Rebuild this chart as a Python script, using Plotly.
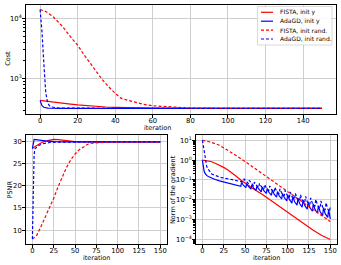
import plotly.graph_objects as go

# ---------------- Data ----------------
# Cost (log scale)
cost_fista_y_it = [0, 5, 10, 15, 20, 25, 30, 35, 40, 50, 60, 80, 100, 150]
cost_fista_y = [440, 425, 405, 388, 372, 360, 350, 343, 338, 332, 329, 327, 326, 325]
cost_ada_y_it = [0, 1, 2, 3, 4, 6, 10, 150]
cost_ada_y = [440, 360, 340, 332, 329, 327, 326, 325]
cost_fista_r_it = [0, 3, 7, 12, 17, 20, 23, 28, 33, 38, 43, 47, 50, 55, 60, 70, 80, 100, 150]
cost_fista_r = [14000, 13000, 10600, 7300, 4600, 3600, 2600, 1600, 980, 660, 480, 440, 415, 380, 360, 340, 330, 326, 325]
cost_ada_r_it = [0, 1, 2, 3, 4, 5, 6, 8, 10, 150]
cost_ada_r = [14000, 6000, 1800, 600, 400, 360, 345, 333, 328, 325]

# PSNR
psnr_fista_y_it = [0, 5, 10, 15, 20, 25, 30, 35, 40, 50, 60, 80, 150]
psnr_fista_y = [28.4, 29.0, 29.6, 30.0, 30.25, 30.4, 30.35, 30.2, 30.05, 29.9, 29.85, 29.85, 29.85]
psnr_ada_y_it = [0, 1, 2, 4, 8, 15, 25, 40, 150]
psnr_ada_y = [28.3, 29.8, 30.4, 30.35, 30.2, 30.05, 29.9, 29.85, 29.85]
psnr_fista_r_it = [0, 5, 10, 15, 20, 25, 30, 35, 40, 45, 50, 55, 60, 65, 70, 80, 90, 150]
psnr_fista_r = [8.0, 8.8, 10.8, 12.9, 14.9, 17.2, 19.7, 22.0, 24.1, 25.8, 27.1, 28.1, 28.8, 29.3, 29.55, 29.75, 29.82, 29.85]
psnr_ada_r_it = [0, 1, 2, 3, 5, 8, 12, 20, 30, 150]
psnr_ada_r = [8.0, 18.0, 27.0, 28.3, 28.7, 29.1, 29.4, 29.7, 29.8, 29.85]

# Norm of the gradient (log scale)
grad_fista_y_it = [0, 5, 10, 15, 20, 25, 30, 35, 40, 45, 50, 60, 70, 80, 90, 100, 110, 120, 130, 140, 150]
grad_fista_y = [1.0, 0.95, 0.85, 0.7, 0.56, 0.43, 0.32, 0.23, 0.15, 0.1, 0.07, 0.035, 0.019, 0.0095,
                0.0047, 0.0023, 0.0011, 0.00055, 0.00029, 0.00016, 0.0001]
grad_fista_r_it = [0, 10, 20, 30, 40, 50, 60, 75, 90, 100, 110, 125, 140, 150]
grad_fista_r = [10.0, 8.0, 5.6, 3.2, 1.66, 0.85, 0.42, 0.15, 0.052, 0.025, 0.013, 0.0045, 0.0016, 0.0008]
grad_ada_y_it = [0, 1, 2, 3, 4, 5, 7, 10, 15, 20, 30, 40,
                 45, 46, 48, 51, 52, 54, 57, 58, 60, 63, 64, 66, 69, 70, 72,
                 75, 76, 78, 81, 82, 84, 87, 88, 90, 93, 94, 96, 99, 100, 102,
                 105, 106, 108, 111, 112, 114, 117, 118, 120, 123, 124, 126,
                 129, 130, 132, 135, 136, 138, 141, 142, 144, 147, 148, 150]
grad_ada_y = [1.0, 0.45, 0.28, 0.22, 0.19, 0.17, 0.15, 0.13, 0.105, 0.09, 0.07, 0.055,
              0.048, 0.075, 0.055, 0.041, 0.065, 0.047, 0.035, 0.056, 0.040, 0.030, 0.050, 0.035,
              0.025, 0.043, 0.029, 0.021, 0.037, 0.024, 0.017, 0.031, 0.020, 0.0135, 0.026, 0.016,
              0.011, 0.021, 0.013, 0.0088, 0.018, 0.0105, 0.0068, 0.015, 0.0082, 0.0054, 0.012, 0.0065,
              0.0043, 0.0095, 0.0052, 0.0034, 0.0078, 0.0041, 0.0027, 0.0063, 0.0033, 0.0021, 0.005,
              0.0026, 0.0016, 0.004, 0.002, 0.0013, 0.0032, 0.0011]
grad_ada_r_it = [0, 1, 2, 3, 4, 5, 6, 8, 11, 15, 23, 30, 40, 45,
                 48, 49, 51, 54, 55, 57, 60, 61, 63, 66, 67, 69, 72, 73, 75,
                 78, 79, 81, 84, 85, 87, 90, 91, 93, 96, 97, 99, 102, 103, 105,
                 108, 109, 111, 114, 115, 117, 120, 121, 123, 126, 127, 129,
                 132, 133, 135, 138, 139, 141, 144, 145, 147, 149, 150]
grad_ada_r = [10.0, 5.0, 2.8, 1.8, 0.8, 0.5, 0.38, 0.28, 0.2, 0.17, 0.13, 0.115, 0.095, 0.085,
              0.078, 0.11, 0.085, 0.066, 0.095, 0.072, 0.05, 0.078, 0.056, 0.042, 0.068, 0.047,
              0.035, 0.058, 0.039, 0.029, 0.05, 0.033, 0.024, 0.043, 0.027, 0.02, 0.036, 0.022,
              0.016, 0.03, 0.018, 0.013, 0.025, 0.0145, 0.0108, 0.021, 0.012, 0.0088, 0.018, 0.0098,
              0.0072, 0.015, 0.008, 0.0058, 0.0125, 0.0065, 0.0047, 0.0105, 0.0053, 0.0038, 0.0088,
              0.0043, 0.003, 0.0072, 0.0034, 0.0025, 0.005]

series_names = ["FISTA, init y", "AdaGD, init y", "FISTA, init rand.", "AdaGD, init rand."]
x_title = "iteration"
y_titles = ["Cost", "PSNR", "Norm of the gradient"]

# ---------------- Figure ----------------
RED = "#ff0000"
BLUE = "#0000ff"
DASH = "3px,2px"
LW = 1.2
series_styles = [(RED, "solid"), (BLUE, "solid"), (RED, DASH), (BLUE, DASH)]

fig = go.Figure()

def add(x, y, k, xa, ya):
    color, dash = series_styles[k]
    fig.add_trace(go.Scatter(
        x=x, y=y, mode="lines", name=series_names[k],
        line=dict(color=color, width=LW, dash=dash),
        xaxis=xa, yaxis=ya, showlegend=False, hoverinfo="skip",
    ))

add(cost_fista_y_it, cost_fista_y, 0, "x", "y")
add(cost_ada_y_it, cost_ada_y, 1, "x", "y")
add(cost_fista_r_it, cost_fista_r, 2, "x", "y")
add(cost_ada_r_it, cost_ada_r, 3, "x", "y")

add(psnr_fista_y_it, psnr_fista_y, 0, "x2", "y2")
add(psnr_ada_y_it, psnr_ada_y, 1, "x2", "y2")
add(psnr_fista_r_it, psnr_fista_r, 2, "x2", "y2")
add(psnr_ada_r_it, psnr_ada_r, 3, "x2", "y2")

add(grad_fista_y_it, grad_fista_y, 0, "x3", "y3")
add(grad_ada_y_it, grad_ada_y, 1, "x3", "y3")
add(grad_fista_r_it, grad_fista_r, 2, "x3", "y3")
add(grad_ada_r_it, grad_ada_r, 3, "x3", "y3")

W, H = 341, 265
TICKF = dict(family="DejaVu Sans", size=6.8, color="black")
TITLEF = dict(family="DejaVu Sans", size=6.5, color="black")

common = dict(
    showline=True, mirror=True, linecolor="black", linewidth=0.8,
    ticks="outside", ticklen=3, tickwidth=0.8, tickcolor="black",
    showgrid=True, gridcolor="#cfcfcf", gridwidth=1, zeroline=False,
    tickfont=TICKF, automargin=False,
)
xcommon = dict(common, ticklabelstandoff=-3)
ycommon = dict(common, ticklabelstandoff=-1)

def minor_log(lo, hi):
    vals = []
    for e in range(lo, hi):
        for m in range(2, 10):
            vals.append(m * 10 ** e)
    return vals

def px(x):
    return x / W

def py(y):
    return 1 - y / H

def dx(px0, px1):
    return [px(px0), px(px1)]

def dy(top, bottom):
    return [py(bottom), py(top)]

fig.update_layout(
    width=W, height=H,
    margin=dict(l=0, r=0, t=0, b=0),
    paper_bgcolor="white", plot_bgcolor="white",
    font=dict(family="DejaVu Sans", color="black"),
    showlegend=False,
    xaxis=dict(xcommon, domain=dx(26, 336), anchor="y", range=[-7.5, 157.5],
               tickvals=[0, 20, 40, 60, 80, 100, 120, 140]),
    yaxis=dict(ycommon, domain=dy(5, 114), anchor="x", type="log", range=[2.42, 4.22],
               tickvals=[1000, 10000], ticktext=["10<sup>3</sup>", "10<sup>4</sup>"],
               minor=dict(ticks="outside", ticklen=1.8, tickwidth=0.6, tickcolor="black",
                          tickvals=minor_log(2, 5), showgrid=False)),
    xaxis2=dict(xcommon, domain=dx(26, 166.7), anchor="y2", range=[-7.5, 157.5],
                tickvals=[0, 25, 50, 75, 100, 125, 150]),
    yaxis2=dict(ycommon, domain=dy(134.5, 244.3), anchor="x2", range=[6.83, 31.5],
                tickvals=[10, 15, 20, 25, 30]),
    xaxis3=dict(xcommon, domain=dx(196, 336.7), anchor="y3", range=[-7.5, 157.5],
                tickvals=[0, 25, 50, 75, 100, 125, 150]),
    yaxis3=dict(ycommon, domain=dy(134.5, 244.3), anchor="x3", type="log", range=[-4.24, 1.29],
                tickvals=[1e-4, 1e-3, 1e-2, 1e-1, 1, 10],
                ticktext=["10<sup>−4</sup>", "10<sup>−3</sup>", "10<sup>−2</sup>",
                          "10<sup>−1</sup>", "10<sup>0</sup>", "10<sup>1</sup>"],
                minor=dict(ticks="outside", ticklen=1.8, tickwidth=0.6, tickcolor="black",
                           tickvals=minor_log(-5, 2), showgrid=False)),
)

# Axis titles placed as annotations (matplotlib-like tight placement)
for cx, cy in [(157, 128), (96.3, 258.3), (266.3, 258.3)]:
    fig.add_annotation(xref="paper", yref="paper", x=px(cx), y=py(cy),
                       xanchor="center", yanchor="middle", showarrow=False,
                       text=x_title, font=TITLEF)
for (cx, cy), t in zip([(7.3, 58.5), (9.0, 189.5), (172.5, 189.5)], y_titles):
    fig.add_annotation(xref="paper", yref="paper", x=px(cx), y=py(cy),
                       xanchor="center", yanchor="middle", showarrow=False,
                       textangle=-90, text=t, font=TITLEF)

# Custom compact legend (matplotlib style) in the top panel
LEG_L, LEG_R, LEG_T, LEG_B = 257.5, 332, 6.5, 45
fig.add_shape(type="rect", xref="paper", yref="paper",
              x0=px(LEG_L), x1=px(LEG_R), y0=py(LEG_B), y1=py(LEG_T),
              line=dict(color="#d0d0d0", width=0.8), fillcolor="rgba(255,255,255,0.85)",
              layer="above")
row_y = [12.3, 21.2, 30.2, 39.0]
for k, name in enumerate(series_names):
    color, dash = series_styles[k]
    fig.add_shape(type="line", xref="paper", yref="paper",
                  x0=px(261), x1=px(273), y0=py(row_y[k]), y1=py(row_y[k]),
                  line=dict(color=color, width=LW, dash=dash), layer="above")
    fig.add_annotation(xref="paper", yref="paper", x=px(277.5), y=py(row_y[k]),
                       xanchor="left", yanchor="middle", showarrow=False,
                       text=name, font=dict(family="DejaVu Sans", size=6, color="black"))

fig.write_html("out.html",
               config={"displayModeBar": False},
               post_script="document.body.style.margin='0px';document.body.style.overflow='hidden';")
